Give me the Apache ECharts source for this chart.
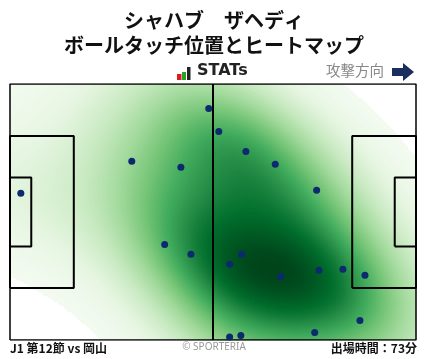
<!DOCTYPE html>
<html><head><meta charset="utf-8">
<script src="https://cdn.jsdelivr.net/npm/echarts@6/dist/echarts.min.js"></script>
<style>html,body{margin:0;padding:0;background:#fff}#c{width:428px;height:359px}</style>
</head><body><div id="c"></div>
<script>
// Ball touch positions (metres; x = attacking direction, y = from bottom touchline)
const touchX = [2.8, 31.5, 44.2, 51.4, 54.0, 61.0, 68.6, 79.3, 40.0, 46.8, 59.9, 56.8, 70.0, 79.9, 86.1, 91.8, 90.5, 78.8, 59.7, 56.8];
const touchY = [39.0, 47.5, 45.9, 61.5, 55.4, 50.1, 46.7, 39.8, 25.4, 22.8, 22.8, 20.1, 16.9, 18.5, 18.8, 17.2, 5.2, 2.0, 1.2, 0.8];

// Pitch dimensions (metres)
const pitchLength = 105, pitchWidth = 68;
const penaltyDepth = 16.5, penaltyWidth = 40.32;
const goalAreaDepth = 5.5, goalAreaWidth = 18.32;

// Text
const titleLine1 = 'シャハブ　ザヘディ';
const titleLine2 = 'ボールタッチ位置とヒートマップ';
const matchLabel = 'J1 第12節 vs 岡山';
const minutesLabel = '出場時間：73分';
const directionLabel = '攻撃方向';

const greens = ['#f7fcf5','#e5f5e0','#c7e9c0','#a1d99b','#74c476','#41ab5d','#238b45','#006d2c','#00441b'];
const bwAdjust = 1.3;
const threshMass = 0.025;

// ---- Gaussian KDE (Scott's rule, full covariance) of the touch points ----
const n = touchX.length;
const mx = touchX.reduce((a,b)=>a+b,0)/n, my = touchY.reduce((a,b)=>a+b,0)/n;
let cxx=0, cyy=0, cxy=0;
for (let i=0;i<n;i++){ const dx=touchX[i]-mx, dy=touchY[i]-my; cxx+=dx*dx; cyy+=dy*dy; cxy+=dx*dy; }
cxx/=(n-1); cyy/=(n-1); cxy/=(n-1);
const fac = Math.pow(n, -1/6)*bwAdjust, f2 = fac*fac;
const sxx=cxx*f2, syy=cyy*f2, sxy=cxy*f2;
const det = sxx*syy - sxy*sxy;
const ixx = syy/det, iyy = sxx/det, ixy = -sxy/det;
function dens(x,y){
  let s=0;
  for (let i=0;i<n;i++){ const dx=x-touchX[i], dy=y-touchY[i];
    s += Math.exp(-0.5*(ixx*dx*dx + 2*ixy*dx*dy + iyy*dy*dy)); }
  return s/(n*2*Math.PI*Math.sqrt(det));
}
// iso-proportion: share of probability mass lying at densities below a value
const ext=[];
for (let x=-70;x<=175;x+=1) for (let y=-70;y<=138;y+=1) ext.push(dens(x,y));
ext.sort((a,b)=>a-b);
const cum=new Float64Array(ext.length); let acc=0;
for (let k=0;k<ext.length;k++){ acc+=ext[k]; cum[k]=acc; }
const tot=acc;
function massBelow(v){
  let lo=0, hi=ext.length-1;
  while (lo<hi){ const m=(lo+hi+1)>>1; if (ext[m]<=v) lo=m; else hi=m-1; }
  return ext[lo]<=v ? cum[lo]/tot : 0;
}

const NX=203, NY=128;
const xCats=[], yCats=[];
for (let i=0;i<NX;i++) xCats.push(i);
for (let j=0;j<NY;j++) yCats.push(j);
const heat=[];
for (let i=0;i<NX;i++) for (let j=0;j<NY;j++){
  const p = massBelow(dens((i+0.5)*pitchLength/NX, (j+0.5)*pitchWidth/NY));
  if (p>=threshMass) heat.push([i,j,p]);
}

function rect(x0,y0,x1,y1){ return [[x0,y0],[x1,y0],[x1,y1],[x0,y1],[x0,y0]]; }
const cy = pitchWidth/2;
const pitchShapes = [
  {d: rect(0,0,pitchLength,pitchWidth), w:1.5},
  {d: [[pitchLength/2,0],[pitchLength/2,pitchWidth]], w:2},
  {d: rect(0,cy-penaltyWidth/2,penaltyDepth,cy+penaltyWidth/2), w:2},
  {d: rect(0,cy-goalAreaWidth/2,goalAreaDepth,cy+goalAreaWidth/2), w:2},
  {d: rect(pitchLength-penaltyDepth,cy-penaltyWidth/2,pitchLength,cy+penaltyWidth/2), w:2},
  {d: rect(pitchLength-goalAreaDepth,cy-goalAreaWidth/2,pitchLength,cy+goalAreaWidth/2), w:2}
];

const jp = '"Noto Sans CJK JP", "Noto Sans", sans-serif';
const chart = echarts.init(document.getElementById('c'), null, {renderer:'canvas'});
const series = [{
  type:'heatmap', xAxisIndex:0, yAxisIndex:0, data:heat, progressive:0, silent:true,
  itemStyle:{borderWidth:0}
}];
pitchShapes.forEach(s=>series.push({
  type:'line', xAxisIndex:1, yAxisIndex:1, data:s.d, symbol:'none', silent:true,
  lineStyle:{color:'#000', width:s.w}, z:3
}));
series.push({
  type:'scatter', xAxisIndex:1, yAxisIndex:1, data: touchX.map((x,i)=>[x,touchY[i]]),
  symbolSize:7, itemStyle:{color:'#0c2a6e', opacity:1}, z:4, silent:true
});

chart.setOption({
  animation:false,
  backgroundColor:'#fff',
  title:[
    {text:titleLine1, left:'center', top:10, padding:0, textStyle:{fontSize:20, fontWeight:'bold', color:'#111', fontFamily:jp}},
    {text:titleLine2, left:'center', top:35, padding:0, textStyle:{fontSize:20, fontWeight:'bold', color:'#111', fontFamily:jp}},
    {text:'STATs', left:197, top:63, padding:0, textStyle:{fontSize:16, fontWeight:'bold', color:'#222', fontFamily:'"DejaVu Sans", sans-serif'}},
    {text:directionLabel, left:326, top:63, padding:0, textStyle:{fontSize:14.5, fontWeight:'normal', color:'#888', fontFamily:jp}},
    {text:matchLabel, left:10, top:342, padding:0, textStyle:{fontSize:12, fontWeight:'bold', color:'#111', fontFamily:jp}},
    {text:'© SPORTERIA', left:'center', top:342, padding:0, textStyle:{fontSize:10, fontWeight:'normal', color:'#999', fontFamily:'"Noto Sans", sans-serif'}},
    {text:minutesLabel, right:11, top:342, padding:0, textStyle:{fontSize:12, fontWeight:'bold', color:'#111', fontFamily:jp}}
  ],
  graphic:[
    {type:'rect', shape:{x:177,y:74,width:4.5,height:6}, style:{fill:'#d62020'}},
    {type:'rect', shape:{x:182,y:72,width:4,height:8}, style:{fill:'#2aa02a'}},
    {type:'rect', shape:{x:187,y:67,width:3.5,height:13}, style:{fill:'#222'}},
    {type:'polygon', shape:{points:[[392,68],[403,68],[403,63],[414,72],[403,81],[403,76],[392,76]]}, style:{fill:'#1b2f5e'}}
  ],
  grid:{left:10, top:84, width:406, height:256, containLabel:false},
  xAxis:[
    {type:'category', data:xCats, show:false, boundaryGap:true},
    {type:'value', min:0, max:pitchLength, show:false}
  ],
  yAxis:[
    {type:'category', data:yCats, show:false, boundaryGap:true},
    {type:'value', min:0, max:pitchWidth, show:false}
  ],
  visualMap:{type:'continuous', show:false, seriesIndex:0, dimension:2, min:0, max:1, inRange:{color:greens}},
  series:series
});
</script></body></html>
